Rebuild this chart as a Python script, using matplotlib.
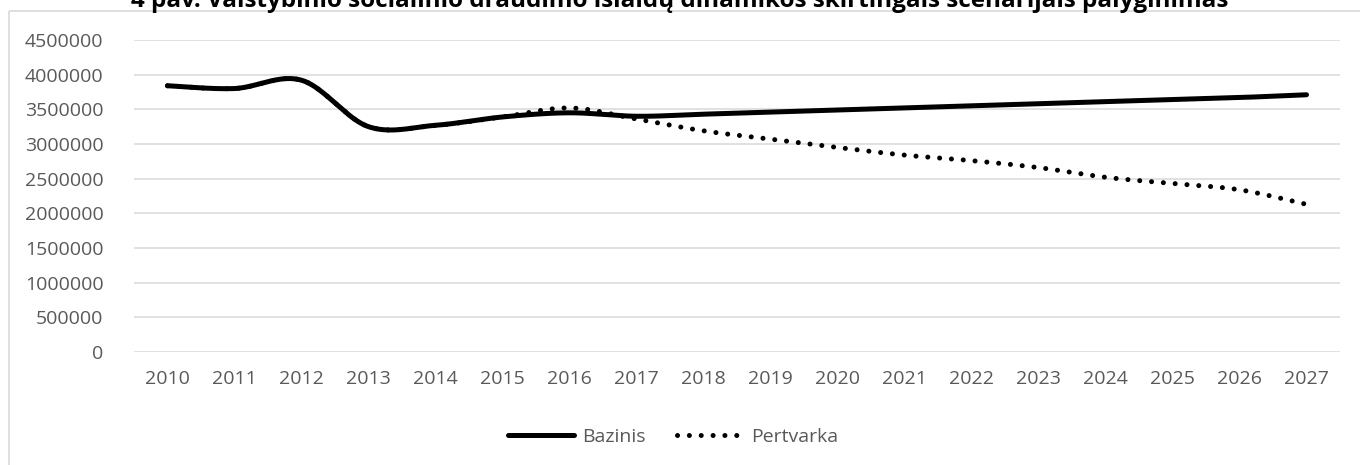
import numpy as np
import matplotlib
matplotlib.use("Agg")
import matplotlib.pyplot as plt
from matplotlib.patches import Rectangle

# data
years = list(range(2010, 2028))
bazinis = [3840000, 3800000, 3920000, 3250000, 3270000, 3390000, 3450000,
           3400000, 3430000, 3460000, 3490000, 3520000, 3550000, 3580000,
           3610000, 3640000, 3670000, 3710000]
pertvarka = [3840000, 3800000, 3920000, 3250000, 3270000, 3390000, 3520000,
             3360000, 3190000, 3070000, 2950000, 2840000, 2760000, 2660000,
             2520000, 2430000, 2340000, 2130000]
y_ticks = list(range(0, 4500001, 500000))
title = ("4 pav. Valstybinio socialinio draudimo išlaidų dinamikos "
         "skirtingais scenarijais palyginimas")

W, H = 1360, 465
GRAY = "#595959"
GRID = "#d9d9d9"


def smooth(xs, ys, n=40):
    # Excel style smoothed line: bezier segments with catmull-rom control points
    xs = np.asarray(xs, float)
    ys = np.asarray(ys, float)
    px = np.concatenate([[xs[0]], xs, [xs[-1]]])
    py = np.concatenate([[ys[0]], ys, [ys[-1]]])
    out_x, out_y = [], []
    t = np.linspace(0, 1, n)
    for i in range(1, len(px) - 2):
        p0 = np.array([px[i], py[i]])
        p3 = np.array([px[i + 1], py[i + 1]])
        p1 = p0 + (np.array([px[i + 1], py[i + 1]]) -
                   np.array([px[i - 1], py[i - 1]])) / 6
        p2 = p3 - (np.array([px[i + 2], py[i + 2]]) -
                   np.array([px[i], py[i]])) / 6
        b = (((1 - t) ** 3)[:, None] * p0 + (3 * (1 - t) ** 2 * t)[:, None] * p1
             + (3 * (1 - t) * t ** 2)[:, None] * p2 + (t ** 3)[:, None] * p3)
        out_x.extend(b[:, 0])
        out_y.extend(b[:, 1])
    return out_x, out_y


plt.rcParams["font.family"] = ["Open Sans", "DejaVu Sans"]

fig = plt.figure(figsize=(W / 100, H / 100), dpi=100)
ax = fig.add_axes([134 / W, 1 - 352 / H, (1340 - 134) / W, (352 - 40) / H])

# outer chart border
fig.patches.append(Rectangle((9 / W, 1 - 11 / H), 1.2, -1.2,
                             transform=fig.transFigure, fill=False,
                             edgecolor=GRID, linewidth=1.2))

xpos = np.arange(len(years))
sx, sy = smooth(xpos, pertvarka)
ax.plot(sx, sy, color="black", linewidth=3.6,
        linestyle=(0, (0.01, 2.36)), dash_capstyle="round", label="Pertvarka",
        zorder=3)
bx, by = smooth(xpos, bazinis)
ax.plot(bx, by, color="black", linewidth=3.6, solid_capstyle="round",
        label="Bazinis", zorder=4)

ax.set_xlim(-0.5, len(years) - 0.5)
ax.set_ylim(0, 4500000)
ax.set_yticks(y_ticks)
ax.set_yticklabels([str(v) for v in y_ticks])
ax.set_xticks(xpos)
ax.set_xticklabels([str(y) for y in years])
ax.tick_params(axis="both", length=0, labelsize=14, colors=GRAY)
ax.tick_params(axis="y", pad=22)
ax.tick_params(axis="x", pad=13)
ax.grid(axis="y", color=GRID, linewidth=1.1)
ax.set_axisbelow(True)
for s in ax.spines.values():
    s.set_visible(False)

handles, labels = ax.get_legend_handles_labels()
leg = fig.legend(handles[::-1], labels[::-1], loc="center",
                 bbox_to_anchor=(673 / W, 1 - 437 / H), ncol=2,
                 frameon=False, fontsize=14, handlelength=3.4,
                 handletextpad=0.4, columnspacing=1.6)
for t in leg.get_texts():
    t.set_color(GRAY)

fig.text(0.5, 1 - 7 / H, title, ha="center", va="baseline",
         fontsize=17.5, fontweight="bold", color="black")

fig.savefig("out.png", dpi=100)
